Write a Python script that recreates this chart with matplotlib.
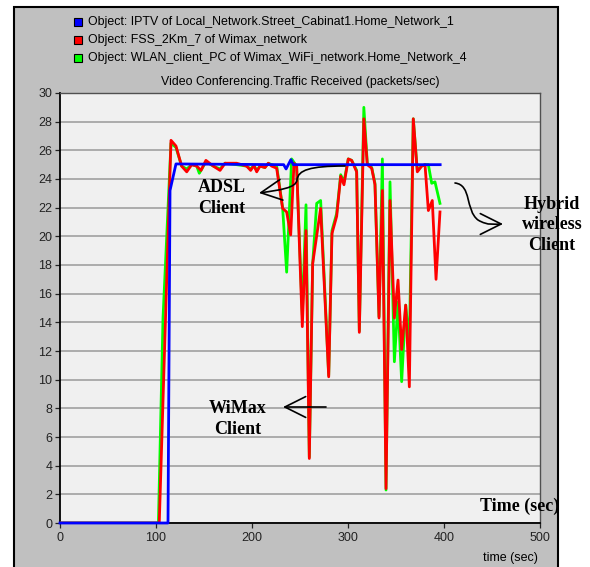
import matplotlib
matplotlib.use("Agg")
import matplotlib.pyplot as plt
from matplotlib.patches import Rectangle, FancyArrowPatch
from matplotlib.path import Path

# series (time in sec, packets/sec)
blue_t = [0, 112.5, 114.6, 120.8, 233, 235.5, 240.5, 243, 396]
blue_v = [0, 0, 23.2, 25.05, 25, 24.7, 25.35, 25, 25]

red_t = [0, 103.4, 115.6, 120.8, 126.7, 132, 137.2, 142.4, 146.9, 152,
         159.7, 166.7, 171.9, 184, 194.4, 198.6, 202, 204.9, 208.3, 213.5,
         217, 220.5, 225.7, 231.9, 236.1, 240.3, 243.75, 246.5, 252.4, 256.25,
         259.7, 263.2, 271.5, 279.9, 283.3, 288.2, 292.4, 295.8, 300.3, 303.8,
         309, 311.8, 316.5, 320.1, 324.7, 328.1, 332.3, 335.8, 339.6, 343.75,
         348.3, 352.1, 355.9, 360.1, 363.9, 368, 372.2, 376.7, 380.2, 383.7,
         387.8, 391.7, 395.8]
red_v = [0, 0, 26.7, 26.3, 24.9, 24.5, 25.0, 24.9, 24.6, 25.3,
         24.9, 24.6, 25.1, 25.1, 24.9, 24.6, 24.95, 24.5, 24.9, 24.8,
         25.1, 24.9, 24.75, 21.95, 21.7, 20.1, 25.1, 24.9, 13.7, 20.4,
         4.5, 18.1, 21.95, 10.2, 20.2, 21.4, 24.2, 23.6, 25.4, 25.3,
         24.5, 13.3, 28.2, 25.0, 24.75, 23.6, 14.3, 23.2, 2.4, 22.5,
         14.3, 16.95, 12.1, 15.2, 9.5, 28.2, 24.5, 24.9, 25.0, 21.8,
         22.5, 17.0, 21.7]

green_t = [0, 102.5, 107.3, 115.6, 120.8, 126.7, 132, 137.2, 142.4, 145.1,
           152, 159.7, 166.7, 171.9, 184, 194.4, 198.6, 202, 204.9, 208.3,
           213.5, 217, 220.5, 225.7, 231.9, 236.1, 241.3, 246.5, 252.4, 256.25,
           259.7, 263.2, 267.4, 271.5, 279.9, 283.3, 288.2, 292.4, 295.8, 300.3,
           303.8, 309, 311.8, 316.5, 320.1, 324.7, 328.1, 332.3, 335.8, 339.6,
           343.75, 348.3, 352.1, 355.9, 360.1, 363.9, 368, 372.2, 376.7, 380.2,
           383.7, 387.2, 390.6, 395.8]
green_v = [0, 0, 14.3, 26.5, 26.2, 24.9, 24.7, 25.0, 24.9, 24.4,
           25.2, 24.9, 24.7, 25.1, 25.0, 24.9, 24.7, 24.95, 24.6, 24.9,
           24.8, 25.1, 25.0, 24.9, 22.0, 17.5, 25.4, 24.9, 14.5, 22.2,
           4.6, 18.1, 22.3, 22.5, 10.3, 20.4, 21.6, 24.3, 23.8, 25.4,
           25.3, 24.6, 13.4, 29.0, 25.1, 24.8, 23.7, 14.4, 25.4, 2.3,
           23.8, 11.25, 15.4, 9.86, 15.2, 12.5, 28.2, 24.6, 24.9, 25.0,
           25.0, 23.7, 23.8, 22.3]

legend_labels = ["Object: IPTV of Local_Network.Street_Cabinat1.Home_Network_1",
                 "Object: FSS_2Km_7 of Wimax_network",
                 "Object: WLAN_client_PC of Wimax_WiFi_network.Home_Network_4"]
legend_colors = ["#0000FF", "#FF0000", "#00FF00"]

x_ticks = [0, 100, 200, 300, 400, 500]
y_ticks = list(range(0, 31, 2))

W, H = 590, 567

def fx(x):
    return x / W

def fy(y):
    return 1 - y / H

sans = "Liberation Sans"
serif = "Liberation Serif"

fig = plt.figure(figsize=(W / 100, H / 100), dpi=100)
fig.patch.set_facecolor("white")

# grey panel behind everything
panel = Rectangle((fx(14), -0.05), fx(558) - fx(14), fy(7) + 0.05,
                  transform=fig.transFigure, facecolor="#C0C0C0",
                  edgecolor="black", linewidth=1.5, zorder=-5)
fig.add_artist(panel)

ax = fig.add_axes([fx(60), fy(523), fx(540) - fx(60), fy(93) - fy(523)])
ax.set_facecolor("#F0F0F0")

ax.plot(green_t, green_v, color="#00FF00", lw=2.0, zorder=3)
ax.plot(red_t, red_v, color="#FF0000", lw=2.0, zorder=4)
ax.plot(blue_t, blue_v, color="#0000FF", lw=2.0, zorder=5, clip_on=False)

ax.set_xlim(0, 500)
ax.set_ylim(0, 30)
ax.set_xticks(x_ticks)
ax.set_yticks(y_ticks)
ax.yaxis.grid(True, color="#A0A0A0", lw=1.2)
ax.set_axisbelow(True)
ax.tick_params(direction="out", length=3.6, width=0.9, labelsize=9, colors="#222222")
ax.tick_params(axis="y", pad=2)
ax.tick_params(axis="x", pad=3)
for lab in ax.get_xticklabels() + ax.get_yticklabels():
    lab.set_family(sans)
for s in ["left", "bottom"]:
    ax.spines[s].set_color("black")
    ax.spines[s].set_linewidth(1.3)
for s in ["top", "right"]:
    ax.spines[s].set_color("#505050")
    ax.spines[s].set_linewidth(1.0)

# legend block at the top
for i, (lab, col) in enumerate(zip(legend_labels, legend_colors)):
    yy = 22 + i * 17.8
    fig.add_artist(Rectangle((fx(74), fy(yy + 4)), fx(8), 8 / H,
                             transform=fig.transFigure, facecolor=col,
                             edgecolor="black", linewidth=0.8))
    fig.text(fx(88), fy(yy), lab, family=sans, fontsize=8.9, va="center", ha="left")

fig.text(fx(300), fy(81.5), "Video Conferencing.Traffic Received (packets/sec)",
         family=sans, fontsize=8.9, ha="center", va="center")
fig.text(fx(538), fy(558), "time (sec)", family=sans, fontsize=9,
         ha="right", va="center")

# hand drawn notes
bold = dict(family=serif, fontweight="bold", fontsize=13, ha="center",
            va="center", linespacing=1.3)
fig.text(fx(222), fy(198), "ADSL\nClient", **bold)
fig.text(fx(238), fy(419), "WiMax\nClient", **bold)
fig.text(fx(552), fy(225), "Hybrid\nwireless\nClient", **bold)
fig.text(fx(520), fy(506), "Time (sec)", **bold)

def curve(pts):
    verts = [(fx(a), fy(b)) for a, b in pts]
    codes = [Path.MOVETO] + [Path.CURVE4] * (len(verts) - 1)
    return Path(verts, codes)

arrow_style = "->,head_length=1.5,head_width=0.75"
adsl = FancyArrowPatch(path=curve([(345, 166), (310, 166), (298, 170), (297, 180),
                                   (296, 188), (280, 190), (259, 193)]),
                       arrowstyle=arrow_style, mutation_scale=10,
                       color="black", lw=1.2, transform=fig.transFigure)
fig.add_artist(adsl)

wimax = FancyArrowPatch(posA=(fx(326), fy(407)), posB=(fx(283), fy(407)),
                        arrowstyle=arrow_style, mutation_scale=10,
                        color="black", lw=1.2, transform=fig.transFigure,
                        shrinkA=0, shrinkB=0)
fig.add_artist(wimax)

hybrid = FancyArrowPatch(path=curve([(455, 183), (472, 185), (465, 210), (478, 220),
                                     (488, 226), (495, 224), (503, 224)]),
                         arrowstyle=arrow_style, mutation_scale=10,
                         color="black", lw=1.2, transform=fig.transFigure)
fig.add_artist(hybrid)

fig.savefig("out.png", dpi=100)
